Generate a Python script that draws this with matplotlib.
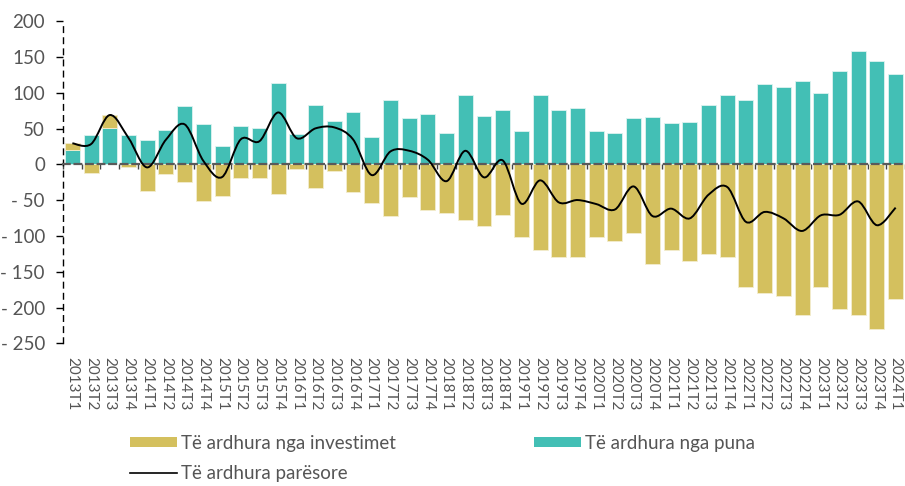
import matplotlib
matplotlib.use("Agg")
import matplotlib.pyplot as plt
import numpy as np
from matplotlib.path import Path
from matplotlib.patches import PathPatch, Patch
from matplotlib.lines import Line2D
from matplotlib.ticker import FuncFormatter, FixedLocator

plt.rcParams['font.family'] = ['Lato', 'DejaVu Sans']

quarters = [f"{y}T{q}" for y in range(2013, 2024) for q in range(1, 5)] + ["2024T1"]

labour = [19.5, 41, 51, 41, 33.5, 48, 81, 56, 26, 54, 51, 114, 43, 83, 61, 73,
          38.6, 90.7, 64.7, 69.8, 44, 96.7, 67.9, 75.8, 47, 97.2, 76.7, 79, 46,
          44, 65, 66.5, 57.2, 59, 83.3, 97.2, 90.7, 112.6, 108.4, 117.2, 99.5,
          131, 158, 145, 127]
invest = [10, -12.6, 18, -4, -37.7, -13.5, -25, -51, -43.7, -19, -18.6, -41.4,
          -6.5, -32.6, -9.3, -38, -53.5, -72.6, -45.6, -63.3, -67.4, -77.7, -86,
          -70.2, -101.9, -119.5, -129.8, -128.8, -101.4, -107, -95.8, -138.6,
          -119, -134.4, -125.6, -128.8, -171, -179, -183.7, -210.2, -170.7,
          -201.4, -209.8, -230, -187.4]
primary = [29.5, 28.4, 69, 37, -4.2, 34.5, 56, 5, -17.7, 35, 32.4, 72.6, 36.5,
           50.4, 51.7, 35, -14.9, 18.1, 19.1, 6.5, -23.4, 19, -18.1, 5.6, -54.9,
           -22.3, -53.1, -49.8, -55.4, -63, -30.8, -72.1, -61.8, -75.4, -42.3,
           -31.6, -80.3, -66.4, -75.3, -93, -71.2, -70.4, -51.8, -85, -60.4]

TEAL = '#43BFB5'
GOLD = '#D4C05E'
TXT = '#555555'

fig = plt.figure(figsize=(9.05, 4.86), dpi=100)
ax = fig.add_axes([0.0696, 0.2936, 0.9304, 0.6626])

x = np.arange(len(quarters))
lab = np.array(labour)
inv = np.array(invest)
inv_bottom = np.where(inv > 0, lab, 0)

ax.bar(x, lab, width=0.8, color=TEAL, edgecolor='#dff3f0', linewidth=0.6, zorder=2)
ax.bar(x, inv, bottom=inv_bottom, width=0.8, color=GOLD, edgecolor='#f3edcf',
       linewidth=0.6, zorder=2)

# smoothed line (Catmull-Rom style Bezier through the data points)
P = np.column_stack([x, np.array(primary, dtype=float)])
verts = [P[0]]
codes = [Path.MOVETO]
n = len(P)
for i in range(n - 1):
    p0 = P[i - 1] if i > 0 else P[i]
    p1 = P[i]
    p2 = P[i + 1]
    p3 = P[i + 2] if i + 2 < n else P[i + 1]
    c1 = p1 + (p2 - p0) / 6.0
    c2 = p2 - (p3 - p1) / 6.0
    verts += [c1, c2, p2]
    codes += [Path.CURVE4] * 3
ax.add_patch(PathPatch(Path(verts, codes), facecolor='none', edgecolor='black',
                       linewidth=1.4, zorder=4))

ax.set_xlim(-0.5, len(quarters) - 0.5)
ax.set_ylim(-250, 200)

# spines
for s in ['top', 'right']:
    ax.spines[s].set_visible(False)
ax.spines['left'].set_linestyle((0, (4, 4)))
ax.spines['left'].set_linewidth(1.0)
ax.spines['left'].set_color('black')
ax.spines['bottom'].set_position(('data', 0))
ax.spines['bottom'].set_linestyle((0, (3, 2.2)))
ax.spines['bottom'].set_linewidth(1.6)
ax.spines['bottom'].set_color('#5a5a5a')
ax.spines['bottom'].set_zorder(3)

ax.set_yticks([200, 150, 100, 50, 0, -50, -100, -150, -200, -250])
ax.yaxis.set_major_formatter(FuncFormatter(
    lambda v, p: f"- {abs(int(v))}" if v < 0 else f"{int(v)}"))
ax.tick_params(axis='y', direction='out', length=5, width=1, color='black',
               pad=8, labelsize=13.5, labelcolor=TXT)

# boundary ticks on zero line
ax.xaxis.set_major_locator(FixedLocator(np.arange(-0.5, len(quarters), 1.0)))
ax.tick_params(axis='x', direction='out', length=3.5, width=1, color='#444444',
               labelbottom=False)

# category labels at bottom
sec = ax.secondary_xaxis('bottom')
sec.spines['bottom'].set_visible(False)
sec.set_xticks(x)
sec.set_xticklabels(quarters, rotation=-90, ha='center', va='top')
sec.tick_params(axis='x', length=0, pad=10, labelsize=11, labelcolor=TXT)

handles = [Patch(facecolor=GOLD, edgecolor='none'),
           Line2D([], [], color='black', linewidth=1.2),
           Patch(facecolor=TEAL, edgecolor='none')]
labels = ['Të ardhura nga investimet', 'Të ardhura parësore', 'Të ardhura nga puna']
fig.legend(handles, labels, loc='upper left', bbox_to_anchor=(0.1436, 0.105),
           ncol=2, frameon=False, fontsize=13.5, labelcolor=TXT,
           handlelength=2.5, handleheight=0.45, handletextpad=0.2,
           labelspacing=0.7, columnspacing=7.4, borderpad=0, borderaxespad=0)

fig.savefig('out.png', dpi=100)
